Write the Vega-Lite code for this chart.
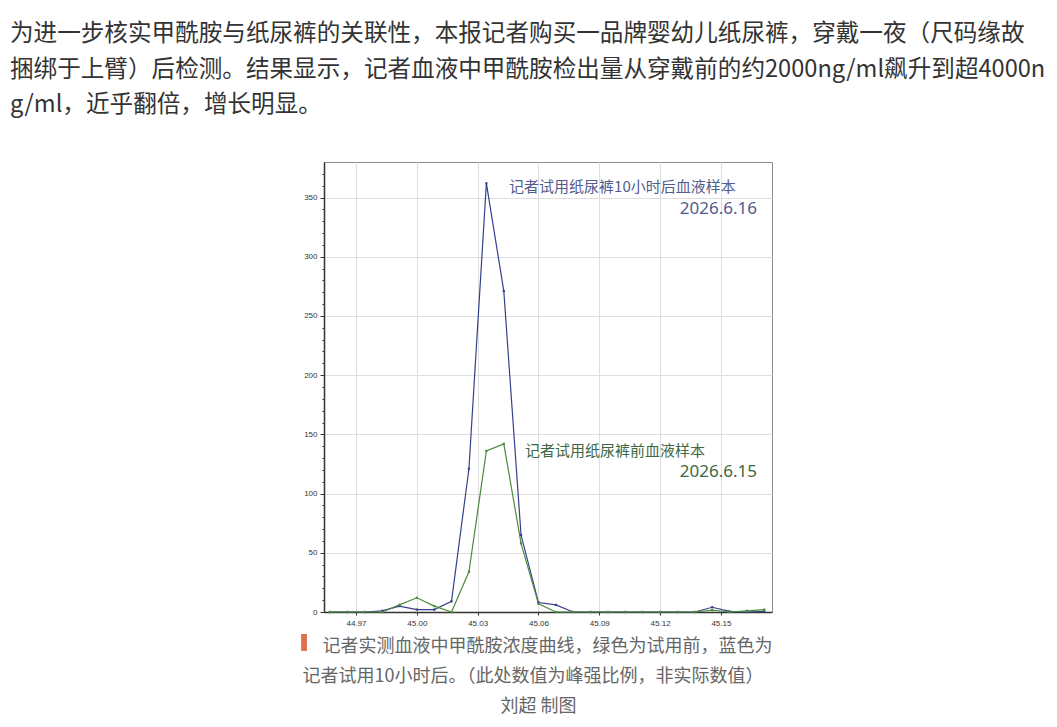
{
  "$schema": "https://vega.github.io/schema/vega-lite/v6.json",
  "autosize": {"type": "none"},
  "width": 448,
  "height": 450,
  "padding": {"left": 324, "top": 162, "right": 285, "bottom": 115},
  "background": "#ffffff",
  "title": {
    "text": [
      "为进一步核实甲酰胺与纸尿裤的关联性，本报记者购买一品牌婴幼儿纸尿裤，穿戴一夜（尺码缘故",
      "捆绑于上臂）后检测。结果显示，记者血液中甲酰胺检出量从穿戴前的约2000ng/ml飙升到超4000n",
      "g/ml，近乎翻倍，增长明显。"
    ],
    "anchor": "start",
    "frame": "group",
    "orient": "top",
    "align": "left",
    "baseline": "top",
    "dx": -314,
    "dy": -35,
    "offset": 10,
    "font": "Noto Sans CJK SC",
    "fontSize": 23.6,
    "fontWeight": "normal",
    "lineHeight": 35.5,
    "color": "#333333"
  },
  "datasets": {
    "curves": [
      {"mz": 44.9571, "value": 0, "series": "试用10小时后"},
      {"mz": 44.9657, "value": 0, "series": "试用10小时后"},
      {"mz": 44.9743, "value": 0, "series": "试用10小时后"},
      {"mz": 44.9829, "value": 1, "series": "试用10小时后"},
      {"mz": 44.9914, "value": 5, "series": "试用10小时后"},
      {"mz": 45.0000, "value": 2, "series": "试用10小时后"},
      {"mz": 45.0086, "value": 2, "series": "试用10小时后"},
      {"mz": 45.0171, "value": 9, "series": "试用10小时后"},
      {"mz": 45.0257, "value": 121, "series": "试用10小时后"},
      {"mz": 45.0343, "value": 362, "series": "试用10小时后"},
      {"mz": 45.0429, "value": 271, "series": "试用10小时后"},
      {"mz": 45.0514, "value": 65, "series": "试用10小时后"},
      {"mz": 45.0600, "value": 8, "series": "试用10小时后"},
      {"mz": 45.0686, "value": 6, "series": "试用10小时后"},
      {"mz": 45.0771, "value": 0, "series": "试用10小时后"},
      {"mz": 45.0857, "value": 0, "series": "试用10小时后"},
      {"mz": 45.0943, "value": 0, "series": "试用10小时后"},
      {"mz": 45.1029, "value": 0, "series": "试用10小时后"},
      {"mz": 45.1114, "value": 0, "series": "试用10小时后"},
      {"mz": 45.1200, "value": 0, "series": "试用10小时后"},
      {"mz": 45.1286, "value": 0, "series": "试用10小时后"},
      {"mz": 45.1371, "value": 0, "series": "试用10小时后"},
      {"mz": 45.1457, "value": 4, "series": "试用10小时后"},
      {"mz": 45.1543, "value": 0.5, "series": "试用10小时后"},
      {"mz": 45.1629, "value": 0, "series": "试用10小时后"},
      {"mz": 45.1714, "value": 0.5, "series": "试用10小时后"},
      {"mz": 44.9571, "value": 0, "series": "试用前"},
      {"mz": 44.9657, "value": 0, "series": "试用前"},
      {"mz": 44.9743, "value": 0, "series": "试用前"},
      {"mz": 44.9829, "value": 0, "series": "试用前"},
      {"mz": 44.9914, "value": 6, "series": "试用前"},
      {"mz": 45.0000, "value": 12, "series": "试用前"},
      {"mz": 45.0086, "value": 5, "series": "试用前"},
      {"mz": 45.0171, "value": 0, "series": "试用前"},
      {"mz": 45.0257, "value": 34, "series": "试用前"},
      {"mz": 45.0343, "value": 136, "series": "试用前"},
      {"mz": 45.0429, "value": 142, "series": "试用前"},
      {"mz": 45.0514, "value": 58, "series": "试用前"},
      {"mz": 45.0600, "value": 7, "series": "试用前"},
      {"mz": 45.0686, "value": 0, "series": "试用前"},
      {"mz": 45.0771, "value": 0, "series": "试用前"},
      {"mz": 45.0857, "value": 0, "series": "试用前"},
      {"mz": 45.0943, "value": 0, "series": "试用前"},
      {"mz": 45.1029, "value": 0, "series": "试用前"},
      {"mz": 45.1114, "value": 0, "series": "试用前"},
      {"mz": 45.1200, "value": 0, "series": "试用前"},
      {"mz": 45.1286, "value": 0, "series": "试用前"},
      {"mz": 45.1371, "value": 0, "series": "试用前"},
      {"mz": 45.1457, "value": 1.5, "series": "试用前"},
      {"mz": 45.1543, "value": 0, "series": "试用前"},
      {"mz": 45.1629, "value": 1, "series": "试用前"},
      {"mz": 45.1714, "value": 2, "series": "试用前"}
    ]
  },
  "layer": [
    {
      "data": {"name": "curves"},
      "mark": {"type": "line", "strokeWidth": 1.2, "point": {"shape": "square", "size": 5, "filled": true}},
      "encoding": {
        "x": {
          "field": "mz", "type": "quantitative",
          "scale": {"domain": [44.9542, 45.1752], "nice": false, "zero": false},
          "axis": {
            "values": [44.97, 45.0, 45.03, 45.06, 45.09, 45.12, 45.15],
            "tickCount": 100,
            "format": ".2f",
            "grid": true,
            "gridColor": "#dedede",
            "domainColor": "#333333",
            "domainWidth": 1.3,
            "tickColor": "#333333",
            "tickSize": 3,
            "labelFont": "Liberation Sans",
            "labelFontSize": 8,
            "labelColor": "#333333",
            "labelPadding": 4,
            "labelOverlap": false,
            "title": "记者实测血液中甲酰胺浓度曲线，绿色为试用前，蓝色为",
            "titleX": -2,
            "titleY": 25,
            "titleAlign": "left",
            "titleAnchor": "start",
            "titleBaseline": "top",
            "titleFont": "Noto Sans CJK SC",
            "titleFontSize": 18,
            "titleFontWeight": "normal",
            "titleColor": "#666666"
          }
        },
        "y": {
          "field": "value", "type": "quantitative",
          "scale": {"domain": [0, 380], "nice": false},
          "axis": {
            "values": [0, 10, 20, 30, 40, 50, 60, 70, 80, 90, 100, 110, 120, 130, 140, 150, 160, 170, 180, 190, 200, 210, 220, 230, 240, 250, 260, 270, 280, 290, 300, 310, 320, 330, 340, 350, 360, 370],
            "tickCount": 100,
            "labelExpr": "datum.value % 50 === 0 ? datum.label : ''",
            "labelOverlap": false,
            "grid": true,
            "gridColor": "#dedede",
            "gridOpacity": {"condition": {"test": "datum.value % 50 === 0", "value": 1}, "value": 0},
            "tickSize": {"condition": {"test": "datum.value % 50 === 0", "value": 4}, "value": 2},
            "tickColor": "#333333",
            "domainColor": "#333333",
            "domainWidth": 1.5,
            "labelFont": "Liberation Sans",
            "labelFontSize": 8,
            "labelColor": "#333333",
            "labelPadding": 3,
            "title": [
              "记者试用10小时后。（此处数值为峰强比例，非实际数值）",
              "\u200b\u3000\u3000\u3000\u3000\u3000\u3000\u3000\u3000\u3000\u3000\u3000刘超 制图"
            ],
            "titleAngle": 0,
            "titleX": -22,
            "titleY": 505,
            "titleAlign": "left",
            "titleAnchor": "start",
            "titleBaseline": "top",
            "titleLineHeight": 30,
            "titleFont": "Noto Sans CJK SC",
            "titleFontSize": 18,
            "titleFontWeight": "normal",
            "titleColor": "#666666"
          }
        },
        "color": {
          "field": "series", "type": "nominal",
          "scale": {"domain": ["试用10小时后", "试用前"], "range": ["#36408a", "#4b8b3b"]},
          "legend": null
        }
      }
    },
    {
      "data": {"values": [{}]},
      "mark": {"type": "rect", "color": "#e0714f", "clip": false},
      "encoding": {
        "x": {"datum": 44.9429},
        "x2": {"datum": 44.9458},
        "y": {"datum": -18.6},
        "y2": {"datum": -32.9}
      }
    },
    {
      "data": {"values": [{}]},
      "mark": {"type": "text", "align": "left", "baseline": "middle", "font": "Noto Sans CJK SC", "fontSize": 15, "color": "#525c8e"},
      "encoding": {
        "x": {"datum": 45.0455},
        "y": {"datum": 358.9},
        "text": {"value": "记者试用纸尿裤10小时后血液样本"}
      }
    },
    {
      "data": {"values": [{}]},
      "mark": {"type": "text", "align": "right", "baseline": "middle", "font": "Noto Sans", "fontSize": 17, "color": "#525c8e"},
      "encoding": {
        "x": {"datum": 45.1678},
        "y": {"datum": 340.3},
        "text": {"value": "2026.6.16"}
      }
    },
    {
      "data": {"values": [{}]},
      "mark": {"type": "text", "align": "left", "baseline": "middle", "font": "Noto Sans CJK SC", "fontSize": 15, "color": "#3e6845"},
      "encoding": {
        "x": {"datum": 45.0534},
        "y": {"datum": 136.2},
        "text": {"value": "记者试用纸尿裤前血液样本"}
      }
    },
    {
      "data": {"values": [{}]},
      "mark": {"type": "text", "align": "right", "baseline": "middle", "font": "Noto Sans", "fontSize": 17, "color": "#3e6845"},
      "encoding": {
        "x": {"datum": 45.1678},
        "y": {"datum": 118.5},
        "text": {"value": "2026.6.15"}
      }
    }
  ],
  "config": {
    "view": {"stroke": "#8c8c8c", "strokeWidth": 1}
  }
}
